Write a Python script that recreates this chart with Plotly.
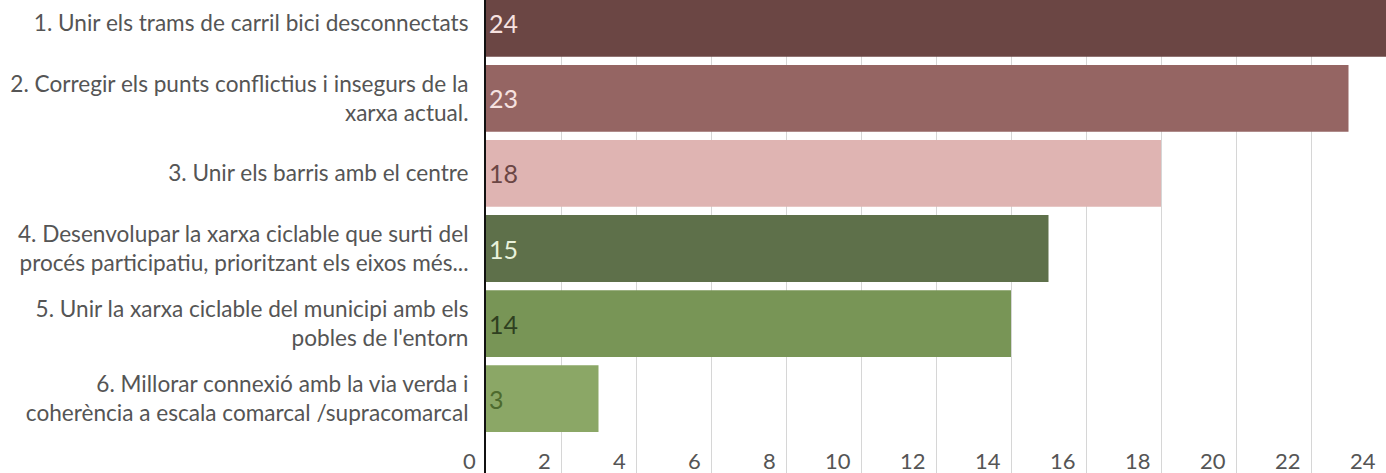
import plotly.graph_objects as go

categories = [
    "1. Unir els trams de carril bici desconnectats",
    "2. Corregir els punts conflictius i insegurs de la<br>xarxa actual.",
    "3. Unir els barris amb el centre",
    "4. Desenvolupar la xarxa ciclable que surti del<br>procés participatiu, prioritzant els eixos més...",
    "5. Unir la xarxa ciclable del municipi amb els<br>pobles de l'entorn",
    "6. Millorar connexió amb la via verda i<br>coherència a escala comarcal /supracomarcal",
]
values = [24, 23, 18, 15, 14, 3]
bar_colors = ["#6b4644", "#956563", "#dfb4b2", "#5e704a", "#789556", "#8ba766"]
text_colors = ["#f6e2e0", "#f6e2e0", "#6b4644", "#e9f2dc", "#2f3f20", "#4d6a2e"]
x_ticks = list(range(0, 25, 2))
x_tick_labels = [str(t) for t in x_ticks]

fig = go.Figure(
    go.Bar(
        y=categories,
        x=values,
        orientation="h",
        marker=dict(color=bar_colors, line=dict(width=0)),
        text=[str(v) for v in values],
        textposition="inside",
        insidetextanchor="start",
        textfont=dict(family="Lato", size=25, color=text_colors),
        cliponaxis=True,
    )
)

fig.update_layout(
    width=1386,
    height=473,
    margin=dict(l=486, r=0, t=0, b=0, autoexpand=False),
    paper_bgcolor="white",
    plot_bgcolor="white",
    bargap=0.11,
    showlegend=False,
    font=dict(family="Lato", color="#555555"),
)

fig.update_xaxes(
    range=[0, 24],
    tickvals=x_ticks,
    showticklabels=False,
    showgrid=True,
    gridcolor="#d6d6d6",
    gridwidth=1,
    zeroline=False,
    showline=False,
    ticks="",
    automargin=False,
)

# x tick labels sit just left of their grid lines, inside the bottom of the plot
for t, lab in zip(x_ticks, x_tick_labels):
    fig.add_annotation(
        x=t, xref="x", y=0, yref="paper",
        text=lab, showarrow=False,
        xanchor="right", yanchor="middle",
        xshift=-8, yshift=13,
        font=dict(family="Lato", size=22, color="#555555"),
    )

fig.update_yaxes(
    categoryorder="array",
    categoryarray=categories,
    range=[5.99, -0.31],
    showline=True,
    linecolor="#111111",
    linewidth=2,
    showgrid=False,
    ticks="outside",
    ticklen=0,
    ticklabelstandoff=11,
    tickfont=dict(family="Lato", size=22.6, color="#555555"),
    automargin=False,
)

fig.write_html(
    "out.html",
    config={"displayModeBar": False},
    post_script="document.body.style.margin='0';document.body.style.overflow='hidden';",
)
